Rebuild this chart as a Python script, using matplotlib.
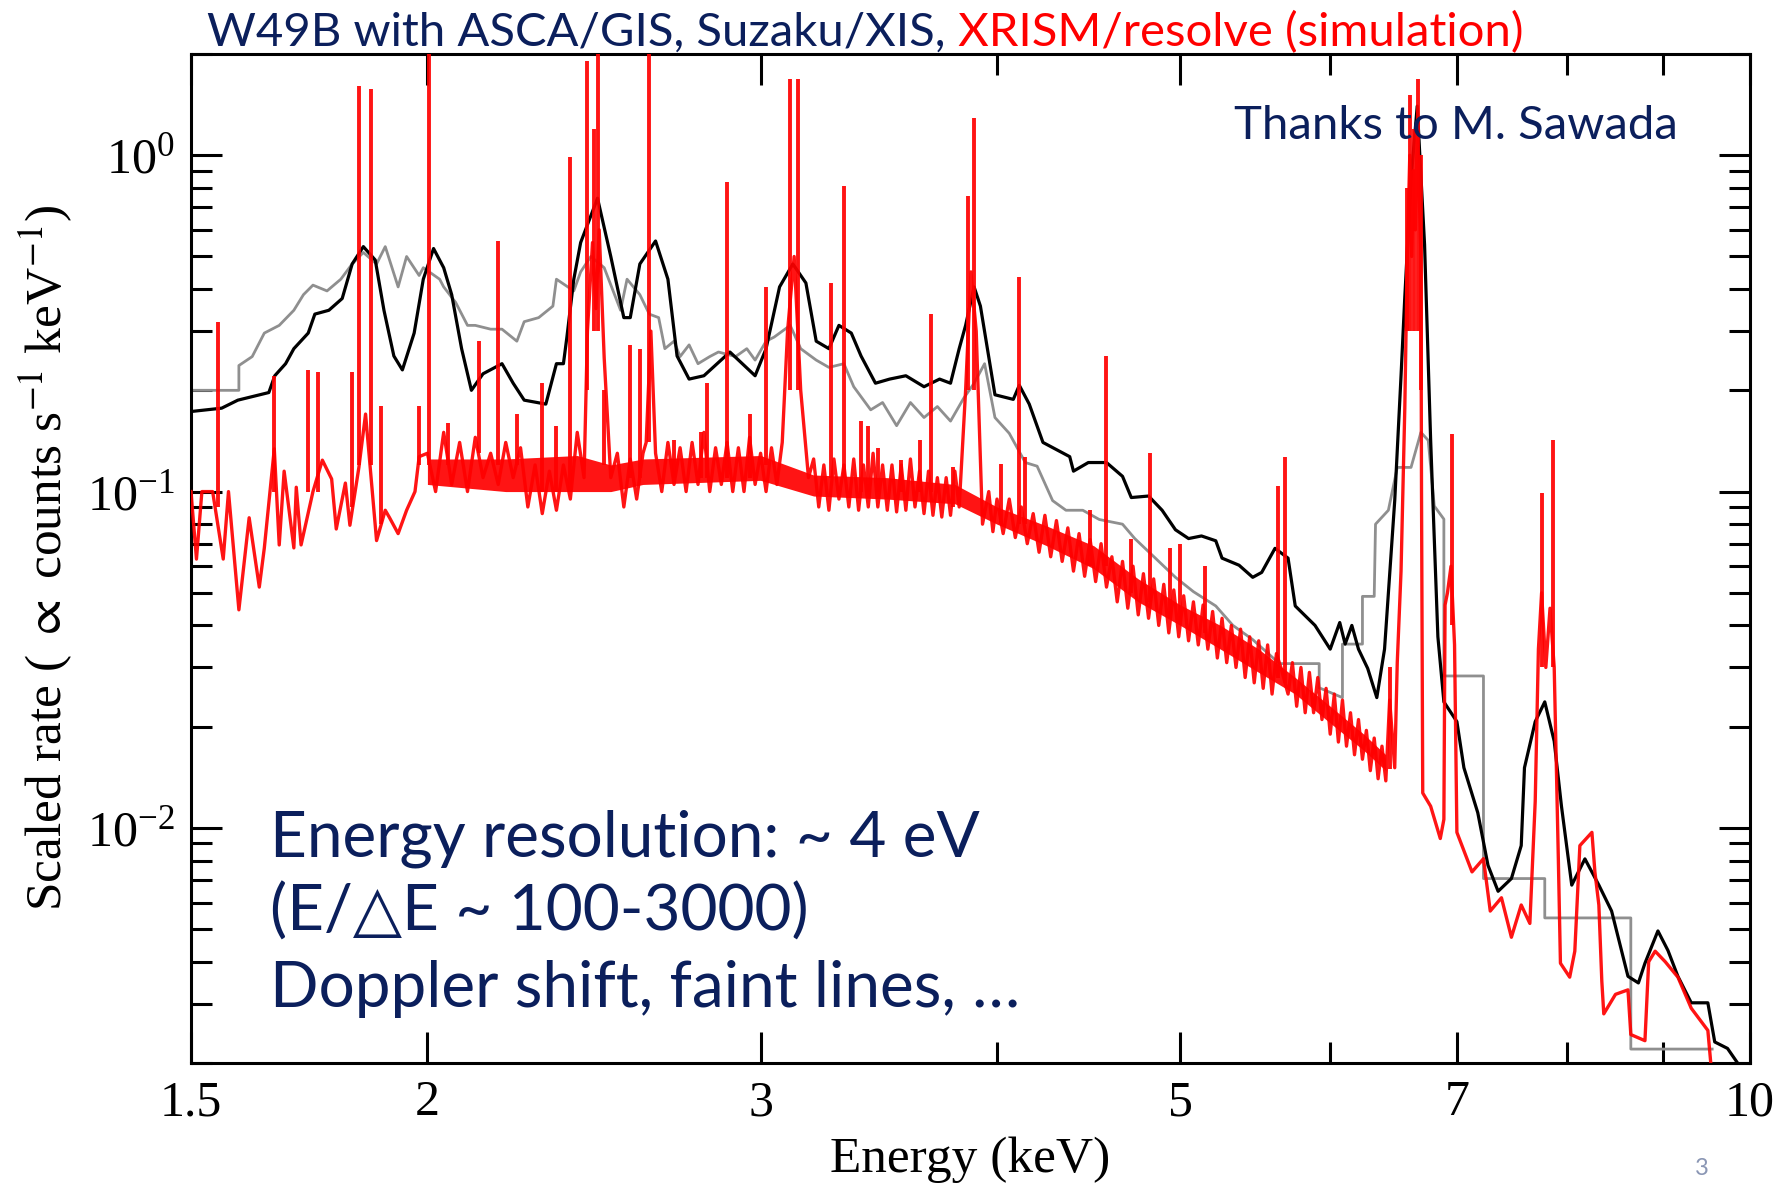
import numpy as np
import matplotlib
matplotlib.use("Agg")
import matplotlib.pyplot as plt
from matplotlib.ticker import FixedLocator, FixedFormatter, NullFormatter, LogLocator

# ============================================================
# Data (energy in keV, scaled rate)
# ============================================================

# Suzaku/XIS (black)
xis_E = [1.50, 1.557, 1.588, 1.649, 1.661, 1.683, 1.70, 1.73, 1.744, 1.774, 1.803, 1.825,
         1.85, 1.877, 1.897, 1.92, 1.94, 1.968, 1.99, 2.015, 2.04, 2.06, 2.085, 2.11, 2.14,
         2.19, 2.22, 2.25, 2.31, 2.34, 2.36, 2.37, 2.39, 2.41, 2.46, 2.50, 2.54, 2.56, 2.59,
         2.64, 2.68, 2.71, 2.75, 2.80, 2.89, 2.98, 3.02, 3.07, 3.12, 3.17, 3.21, 3.26, 3.30,
         3.35, 3.39, 3.45, 3.51, 3.58, 3.66, 3.73, 3.78, 3.82, 3.85, 3.89, 3.92, 3.99, 4.08,
         4.11, 4.16, 4.23, 4.37, 4.39, 4.47, 4.57, 4.66, 4.71, 4.81, 4.89, 4.97, 5.05, 5.13,
         5.22, 5.26, 5.37, 5.46, 5.52, 5.61, 5.70, 5.75, 5.89, 6.00, 6.07, 6.11, 6.16, 6.21,
         6.28, 6.35, 6.41, 6.49, 6.54, 6.57, 6.62, 6.67, 6.73, 6.78, 6.84, 6.89, 7.00, 7.06,
         7.18, 7.27, 7.36, 7.48, 7.57, 7.60, 7.70, 7.79, 7.88, 7.95, 8.05, 8.18, 8.32, 8.45,
         8.62, 8.73, 8.80, 8.94, 9.05, 9.16, 9.31, 9.50, 9.58, 9.73, 9.85]
xis_rate = [0.173, 0.177, 0.187, 0.197, 0.221, 0.240, 0.266, 0.296, 0.337, 0.346, 0.375, 0.475,
            0.535, 0.488, 0.346, 0.253, 0.230, 0.296, 0.428, 0.528, 0.463, 0.385, 0.266, 0.200, 0.224,
            0.240, 0.210, 0.187, 0.182, 0.240, 0.240, 0.288, 0.428, 0.550, 0.745, 0.500, 0.329, 0.329, 0.475,
            0.556, 0.428, 0.253, 0.216, 0.221, 0.260, 0.221, 0.266, 0.406, 0.475, 0.417, 0.280, 0.266, 0.312,
            0.296, 0.253, 0.210, 0.216, 0.221, 0.205, 0.216, 0.210, 0.266, 0.312, 0.406, 0.356, 0.194, 0.188,
            0.207, 0.182, 0.140, 0.127, 0.115, 0.122, 0.122, 0.111, 0.096, 0.097, 0.088, 0.077, 0.0725, 0.0738,
            0.0714, 0.0634, 0.0604, 0.0556, 0.0575, 0.0678, 0.0634, 0.0457, 0.040, 0.034, 0.0408, 0.0352, 0.040, 0.034,
            0.0298, 0.0244, 0.034, 0.094, 0.221, 0.379, 0.847, 1.40, 0.542, 0.142, 0.037, 0.0237, 0.0207, 0.0151,
            0.0111, 0.00774, 0.00648, 0.00707, 0.00886, 0.0151, 0.0207, 0.0237, 0.0181, 0.0116, 0.00676, 0.00809, 0.00676, 0.00566,
            0.00362, 0.00346, 0.00396, 0.00494, 0.00432, 0.00362, 0.00302, 0.00302, 0.00231, 0.00221, 0.0020]

# ASCA/GIS (grey)
gis_E = [1.50, 1.55, 1.59, 1.59, 1.616, 1.64, 1.67, 1.70, 1.72, 1.74, 1.77, 1.80, 1.825, 1.85,
         1.88, 1.90, 1.93, 1.95, 1.98, 1.99, 2.03, 2.04, 2.07, 2.10, 2.12, 2.16, 2.19, 2.23, 2.25,
         2.29, 2.33, 2.34, 2.39, 2.41, 2.44, 2.48, 2.53, 2.55, 2.59, 2.62, 2.65, 2.67, 2.70, 2.72,
         2.75, 2.78, 2.82, 2.85, 2.91, 2.95, 2.98, 3.02, 3.05, 3.11, 3.15, 3.21, 3.26, 3.32, 3.36,
         3.43, 3.48, 3.54, 3.60, 3.66, 3.72, 3.78, 3.84, 3.89, 3.94, 3.99, 4.06, 4.14, 4.20, 4.28,
         4.35, 4.44, 4.53, 4.66, 4.73, 4.85, 4.97, 5.08, 5.22, 5.33, 5.46, 5.64, 5.92, 5.92, 6.09,
         6.09, 6.24, 6.24, 6.33, 6.34, 6.44, 6.51, 6.62, 6.70, 6.76, 6.81, 6.89, 6.89, 7.23, 7.23,
         7.79, 7.79, 8.65, 8.65, 9.55]
gis_rate = [0.200, 0.200, 0.200, 0.237, 0.252, 0.296, 0.312, 0.346, 0.385, 0.411, 0.395, 0.428, 0.475, 0.514,
            0.475, 0.535, 0.406, 0.500, 0.439, 0.463, 0.428, 0.406, 0.365, 0.312, 0.312, 0.304, 0.304, 0.280, 0.320,
            0.329, 0.356, 0.428, 0.395, 0.450, 0.500, 0.463, 0.346, 0.428, 0.385, 0.337, 0.329, 0.266, 0.280, 0.252,
            0.273, 0.240, 0.252, 0.260, 0.252, 0.266, 0.246, 0.280, 0.288, 0.312, 0.266, 0.246, 0.234, 0.240, 0.205,
            0.175, 0.184, 0.157, 0.184, 0.166, 0.179, 0.162, 0.189, 0.210, 0.240, 0.166, 0.149, 0.122, 0.119, 0.094,
            0.088, 0.088, 0.0826, 0.080, 0.0725, 0.0634, 0.0556, 0.0504, 0.0457, 0.040, 0.0363, 0.0308, 0.0308, 0.0261, 0.0244,
            0.0352, 0.0352, 0.0488, 0.0488, 0.080, 0.088, 0.118, 0.118, 0.150, 0.142, 0.0906, 0.0828, 0.0283, 0.0283, 0.00707,
            0.00707, 0.0054, 0.0054, 0.0022, 0.0022]

# XRISM/resolve simulation (red) -- soft part, below 2 keV
res_soft_E = [1.50, 1.51, 1.52, 1.54, 1.56, 1.57, 1.59, 1.61, 1.63, 1.64, 1.66, 1.67, 1.68, 1.70,
              1.705, 1.715, 1.74, 1.76, 1.78, 1.79, 1.81, 1.82, 1.84, 1.855, 1.88, 1.90, 1.91, 1.93,
              1.95, 1.97, 1.98]
res_soft_rate = [0.100, 0.063, 0.100, 0.100, 0.063, 0.100, 0.0445, 0.0836, 0.052, 0.068, 0.134, 0.0694, 0.115, 0.068,
                 0.103, 0.0694, 0.100, 0.124, 0.109, 0.0774, 0.106, 0.0794, 0.118, 0.170, 0.0715, 0.088, 0.0836, 0.075,
                 0.088, 0.100, 0.127]

# red -- noisy continuum 2-6.45 keV (including broad line wings)
res_mid_E = [2.00, 2.02, 2.04, 2.06, 2.08, 2.10, 2.12, 2.14, 2.16, 2.18, 2.20, 2.22, 2.24, 2.26,
             2.28, 2.30, 2.32, 2.34, 2.36, 2.38, 2.40, 2.42, 2.43, 2.445, 2.455, 2.465, 2.48, 2.50,
             2.52, 2.54, 2.56, 2.58, 2.60, 2.61, 2.625, 2.64, 2.66, 2.68, 2.70, 2.72, 2.74, 2.76,
             2.78, 2.80, 2.82, 2.84, 2.86, 2.88, 2.90, 2.92, 2.94, 2.96, 2.98, 3.00, 3.02, 3.04,
             3.06, 3.08, 3.10, 3.125, 3.15, 3.18, 3.20, 3.22, 3.24, 3.26, 3.28, 3.30, 3.32, 3.34,
             3.36, 3.38, 3.40, 3.42, 3.44, 3.46, 3.48, 3.50, 3.52, 3.54, 3.56, 3.58, 3.60, 3.62,
             3.64, 3.66, 3.68, 3.70, 3.72, 3.74, 3.76, 3.78, 3.80, 3.82, 3.85, 3.875, 3.90, 3.93,
             3.96, 3.98, 4.00, 4.03, 4.06, 4.09, 4.12, 4.15, 4.18, 4.21, 4.24, 4.27, 4.30, 4.33,
             4.36, 4.39, 4.42, 4.45, 4.48, 4.51, 4.54, 4.57, 4.60, 4.63, 4.66, 4.69, 4.72, 4.75,
             4.78, 4.81, 4.84, 4.87, 4.90, 4.93, 4.96, 4.99, 5.02, 5.05, 5.08, 5.11, 5.14, 5.17,
             5.20, 5.23, 5.26, 5.29, 5.32, 5.35, 5.38, 5.41, 5.44, 5.47, 5.50, 5.53, 5.56, 5.59,
             5.62, 5.65, 5.70, 5.73, 5.76, 5.79, 5.82, 5.85, 5.88, 5.91, 5.94, 5.97, 6.00, 6.03,
             6.06, 6.09, 6.12, 6.15, 6.18, 6.21, 6.24, 6.27, 6.30, 6.33, 6.36, 6.39, 6.42, 6.45]
res_mid_rate = [0.130, 0.100, 0.150, 0.105, 0.140, 0.100, 0.145, 0.110, 0.130, 0.105, 0.140, 0.110, 0.135, 0.090,
                0.120, 0.086, 0.115, 0.088, 0.120, 0.095, 0.150, 0.110, 0.300, 0.550, 0.350, 0.600, 0.250, 0.110,
                0.130, 0.090, 0.125, 0.095, 0.130, 0.140, 0.300, 0.130, 0.100, 0.140, 0.105, 0.135, 0.100, 0.140,
                0.105, 0.150, 0.100, 0.135, 0.105, 0.140, 0.100, 0.135, 0.100, 0.145, 0.105, 0.130, 0.100, 0.135,
                0.105, 0.140, 0.300, 0.500, 0.200, 0.110, 0.125, 0.090, 0.120, 0.088, 0.125, 0.095, 0.120, 0.090,
                0.125, 0.088, 0.120, 0.090, 0.130, 0.090, 0.120, 0.088, 0.120, 0.087, 0.120, 0.088, 0.125, 0.090,
                0.115, 0.086, 0.115, 0.085, 0.110, 0.084, 0.110, 0.085, 0.115, 0.090, 0.200, 0.450, 0.300, 0.080,
                0.100, 0.076, 0.095, 0.075, 0.095, 0.073, 0.090, 0.070, 0.086, 0.066, 0.085, 0.064, 0.082, 0.062,
                0.078, 0.058, 0.075, 0.056, 0.072, 0.054, 0.070, 0.052, 0.064, 0.047, 0.062, 0.045, 0.060, 0.043,
                0.057, 0.042, 0.055, 0.040, 0.053, 0.038, 0.051, 0.037, 0.049, 0.036, 0.047, 0.035, 0.046, 0.034,
                0.044, 0.032, 0.042, 0.031, 0.040, 0.030, 0.039, 0.028, 0.037, 0.027, 0.036, 0.026, 0.035, 0.025,
                0.033, 0.030, 0.025, 0.031, 0.023, 0.030, 0.022, 0.029, 0.022, 0.028, 0.021, 0.026, 0.019, 0.025,
                0.018, 0.024, 0.0175, 0.022, 0.0165, 0.021, 0.016, 0.0195, 0.0148, 0.0185, 0.014, 0.0175, 0.0138, 0.024]

# red -- solid core of the noisy band (lower / upper edge)
core_E = [2.00, 2.20, 2.40, 2.50, 2.60, 3.00, 3.20, 3.50, 3.80, 4.00, 4.25, 4.50, 4.75, 5.00,
          5.25, 5.50, 5.75, 6.00, 6.25, 6.42]
core_lo = [0.105, 0.100, 0.100, 0.100, 0.105, 0.108, 0.097, 0.095, 0.092, 0.080, 0.069, 0.059, 0.047, 0.040,
           0.034, 0.029, 0.025, 0.0205, 0.017, 0.0148]
core_hi = [0.125, 0.125, 0.128, 0.120, 0.125, 0.128, 0.112, 0.110, 0.105, 0.090, 0.079, 0.069, 0.055, 0.046,
           0.040, 0.034, 0.028, 0.023, 0.0190, 0.0165]

# red -- Fe K band and above
res_hard_E = [6.49, 6.51, 6.54, 6.57, 6.59, 6.61, 6.625, 6.64, 6.655, 6.67, 6.685, 6.70, 6.705, 6.715,
              6.78, 6.86, 6.89, 6.90, 6.92, 6.95, 6.98, 7.00, 7.13, 7.23, 7.29, 7.39, 7.48, 7.57,
              7.65, 7.70, 7.73, 7.76, 7.80, 7.84, 7.88, 7.92, 7.94, 8.03, 8.08, 8.13, 8.25, 8.28,
              8.32, 8.35, 8.37, 8.49, 8.62, 8.65, 8.80, 8.84, 8.91, 9.02, 9.16, 9.31, 9.50, 9.55]
res_hard_rate = [0.0151, 0.031, 0.058, 0.177, 0.500, 1.000, 0.500, 0.900, 0.600, 1.200, 0.800, 0.500, 0.100, 0.0127,
                 0.0116, 0.0093, 0.0106, 0.046, 0.050, 0.060, 0.035, 0.0097, 0.0074, 0.0081, 0.00566, 0.0062, 0.00473, 0.0059,
                 0.0052, 0.012, 0.034, 0.050, 0.030, 0.045, 0.030, 0.008, 0.00396, 0.0036, 0.0043, 0.00886, 0.0097, 0.0074,
                 0.0059, 0.0035, 0.0028, 0.0032, 0.0033, 0.00243, 0.00233, 0.0040, 0.0043, 0.0040, 0.0036, 0.00291, 0.0025, 0.0018]

# narrow emission lines in the resolve spectrum
line_E = [1.55, 1.66, 1.73, 1.75, 1.825, 1.84, 1.867, 1.89, 1.98, 2.005, 2.05, 2.13, 2.18, 2.23,
          2.30, 2.34, 2.38, 2.43, 2.45, 2.46, 2.48, 2.56, 2.59, 2.62, 2.70, 2.79, 2.81, 2.88,
          2.96, 3.02, 3.11, 3.14, 3.27, 3.32, 3.39, 3.42, 3.46, 3.56, 3.64, 3.69, 3.79, 3.86,
          3.89, 4.02, 4.11, 4.14, 4.48, 4.57, 4.71, 4.82, 4.94, 5.00, 5.15, 5.63, 5.68, 6.45,
          6.59, 6.61, 6.64, 6.675, 6.70, 6.96, 7.76, 7.87]
line_base = [0.09, 0.10, 0.10, 0.10, 0.09, 0.12, 0.12, 0.08, 0.12, 0.12, 0.12, 0.13, 0.12, 0.12,
             0.10, 0.10, 0.10, 0.20, 0.30, 0.30, 0.12, 0.11, 0.11, 0.14, 0.11, 0.11, 0.11, 0.11,
             0.11, 0.12, 0.20, 0.20, 0.11, 0.11, 0.10, 0.10, 0.10, 0.10, 0.10, 0.10, 0.09, 0.20,
             0.20, 0.08, 0.08, 0.08, 0.06, 0.06, 0.05, 0.047, 0.042, 0.041, 0.038, 0.028, 0.027, 0.015,
             0.30, 0.30, 0.30, 0.30, 0.20, 0.04, 0.03, 0.03]
line_top = [0.32, 0.22, 0.23, 0.227, 0.227, 1.61, 1.57, 0.18, 0.18, 2.5, 0.16, 0.28, 0.556, 0.17,
            0.21, 0.157, 0.99, 1.9, 1.2, 2.5, 0.20, 0.273, 0.266, 2.5, 0.142, 0.15, 0.21, 0.83,
            0.17, 0.406, 1.68, 1.68, 0.417, 0.81, 0.162, 0.157, 0.135, 0.124, 0.142, 0.338, 0.118, 0.755,
            1.29, 0.121, 0.434, 0.127, 0.088, 0.253, 0.0725, 0.13, 0.068, 0.07, 0.06, 0.104, 0.127, 0.03,
            0.8, 1.51, 1.2, 1.69, 1.0, 0.148, 0.099, 0.142]

x_ticks = [1.5, 2, 3, 5, 7, 10]
x_tick_labels = ['1.5', '2', '3', '5', '7', '10']
x_minor = [4, 6, 8, 9]

NAVY = '#0b1f5c'
RED = '#ff0000'

# ============================================================
# Figure
# ============================================================

plt.rcParams['mathtext.fontset'] = 'stix'
plt.rcParams['font.family'] = ['Liberation Serif', 'DejaVu Serif']

fig = plt.figure(figsize=(17.87, 11.84), dpi=100)
ax = fig.add_axes([191 / 1787, 121 / 1184, 1559 / 1787, 1009 / 1184])

res_E = res_soft_E + res_mid_E + res_hard_E
res_rate = res_soft_rate + res_mid_rate + res_hard_rate

ax.plot(gis_E, gis_rate, color='#8f8f8f', lw=2.0, zorder=2)
ax.plot(xis_E, xis_rate, color='black', lw=2.3, zorder=3)
ax.fill_between(core_E, core_lo, core_hi, color=RED, lw=0, alpha=0.92, zorder=4)
ax.plot(res_E, res_rate, color=RED, lw=2.4, alpha=0.92, zorder=4)
ax.vlines(line_E, line_base, line_top, color=RED, lw=2.8, alpha=0.92, zorder=5)

ax.set_xscale('log')
ax.set_yscale('log')
ax.set_xlim(1.5, 10)
ax.set_ylim(0.002, 2.0)

ax.xaxis.set_major_locator(FixedLocator(x_ticks))
ax.xaxis.set_major_formatter(FixedFormatter(x_tick_labels))
ax.xaxis.set_minor_locator(FixedLocator(x_minor))
ax.xaxis.set_minor_formatter(NullFormatter())
ax.yaxis.set_major_locator(LogLocator(base=10, numticks=10))
ax.yaxis.set_minor_locator(LogLocator(base=10, subs=np.arange(2, 10), numticks=20))
ax.yaxis.set_minor_formatter(NullFormatter())

ax.tick_params(which='both', direction='in', top=True, right=True, width=2.2, labelsize=36)
ax.tick_params(which='major', length=22, pad=12)
ax.tick_params(which='minor', length=15)
for s in ax.spines.values():
    s.set_linewidth(2.2)

fig.text(970 / 1787, 1 - 1172 / 1184, 'Energy (keV)', ha='center', va='baseline', fontsize=37)
fig.text(46 / 1787, 0.529, r'Scaled rate ( $\propto$ counts s$^{-1}$ keV$^{-1}$)',
         rotation=90, ha='center', va='center', fontsize=37)

# slide texts
sans = ['Lato', 'DejaVu Sans']
t1 = fig.text(207 / 1787, 1 - 46 / 1184, 'W49B with ASCA/GIS, Suzaku/XIS,', color=NAVY,
              fontsize=34, family=sans, va='baseline')
fig.canvas.draw()
bb = t1.get_window_extent()
fig.text(bb.x1 / fig.bbox.width, 1 - 46 / 1184, ' XRISM/resolve (simulation)', color=RED,
         fontsize=34, family=sans, va='baseline')

fig.text(1234 / 1787, 1 - 139 / 1184, 'Thanks to M. Sawada', color=NAVY, fontsize=34,
         family=sans, va='baseline')

fig.text(270 / 1787, 1 - 856 / 1184, 'Energy resolution: ~ 4 eV', color=NAVY, fontsize=46,
         family=sans, va='baseline')
fig.text(270 / 1787, 1 - 931 / 1184, '(E/△E ~ 100-3000)', color=NAVY, fontsize=46,
         family=sans, va='baseline')
fig.text(270 / 1787, 1 - 1007 / 1184, 'Doppler shift, faint lines, …', color=NAVY, fontsize=46,
         family=sans, va='baseline')

fig.text(1695 / 1787, 1 - 1158 / 1184, '3', color='#8a96b4', fontsize=17, family=sans, va='top')

fig.savefig('out.png', dpi=100)
